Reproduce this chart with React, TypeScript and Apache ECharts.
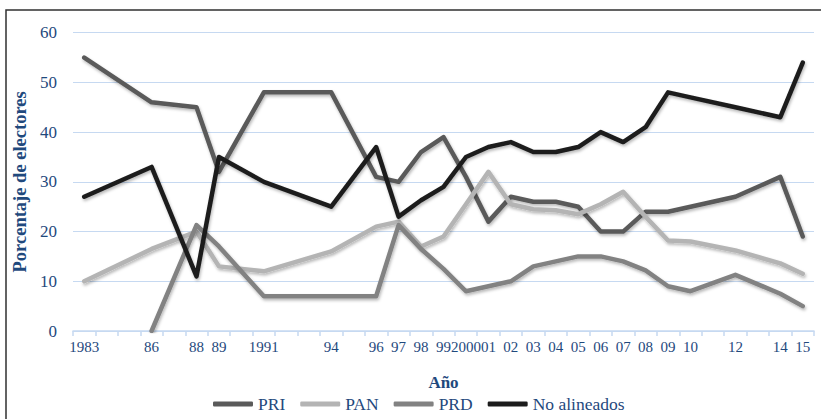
import React, { useEffect, useRef } from "react";
import * as echarts from "echarts";

const years: string[] = [];
for (let y = 1983; y <= 2015; y++) years.push(String(y));

const tickLabels: Record<string, string> = {
  "1983": "1983", "1986": "86", "1988": "88", "1989": "89", "1991": "1991",
  "1994": "94", "1996": "96", "1997": "97", "1998": "98", "1999": "99",
  "2000": "2000", "2001": "01", "2002": "02", "2003": "03", "2004": "04",
  "2005": "05", "2006": "06", "2007": "07", "2008": "08", "2009": "09",
  "2010": "10", "2012": "12", "2014": "14", "2015": "15",
};

// values by year (missing = no survey that year)
const priValues: Record<string, number> = {
  "1983": 55, "1986": 46, "1988": 45, "1989": 32, "1991": 48, "1994": 48,
  "1996": 31, "1997": 30, "1998": 36, "1999": 39, "2000": 31, "2001": 22,
  "2002": 27, "2003": 26, "2004": 26, "2005": 25, "2006": 20, "2007": 20,
  "2008": 24, "2009": 24, "2010": 25, "2012": 27, "2014": 31, "2015": 19,
};
const panValues: Record<string, number> = {
  "1983": 10, "1986": 16.5, "1988": 20, "1989": 13, "1991": 12, "1994": 16,
  "1996": 21, "1997": 22, "1998": 17, "1999": 19, "2000": 25.5, "2001": 32,
  "2002": 25.5, "2003": 24.5, "2004": 24.3, "2005": 23.5, "2006": 25.5, "2007": 28,
  "2008": 23, "2009": 18.2, "2010": 18, "2012": 16.2, "2014": 13.6, "2015": 11.5,
};
const prdValues: Record<string, number> = {
  "1986": 0, "1988": 21.3, "1989": 17, "1991": 7, "1994": 7, "1996": 7,
  "1997": 21.3, "1998": 16.5, "1999": 12.5, "2000": 8, "2001": 9, "2002": 10,
  "2003": 13, "2004": 14, "2005": 15, "2006": 15, "2007": 14, "2008": 12.2,
  "2009": 9, "2010": 8, "2012": 11.3, "2014": 7.5, "2015": 5,
};
const noAlineadosValues: Record<string, number> = {
  "1983": 27, "1986": 33, "1988": 11, "1989": 35, "1991": 30, "1994": 25,
  "1996": 37, "1997": 23, "1998": 26.3, "1999": 29, "2000": 35, "2001": 37,
  "2002": 38, "2003": 36, "2004": 36, "2005": 37, "2006": 40, "2007": 38,
  "2008": 41, "2009": 48, "2010": 47, "2012": 45, "2014": 43, "2015": 54,
};

const toSeries = (m: Record<string, number>) =>
  years.map((y) => (m[y] === undefined ? null : m[y]));

const TEXT = "#1F497D";
const FONT = "'Liberation Serif', serif";

export default function App() {
  const ref = useRef<HTMLDivElement>(null);
  useEffect(() => {
    if (!ref.current) return;
    const chart = echarts.init(ref.current, undefined, { renderer: "svg" });
    const mk = (name: string, data: (number | null)[], color: string) => ({
      name,
      type: "line",
      data,
      connectNulls: true,
      showSymbol: false,
      symbol: "none",
      itemStyle: { color },
      lineStyle: {
        color,
        width: 4.5,
        cap: "round",
        join: "round",
        shadowColor: "rgba(0,0,0,0.28)",
        shadowBlur: 3,
        shadowOffsetX: 1,
        shadowOffsetY: 2,
      },
    });
    chart.setOption({
      animation: false,
      backgroundColor: "#ffffff",
      textStyle: { fontFamily: FONT },
      grid: { left: 73, right: 7, top: 32.7, bottom: 88 },
      graphic: [
        {
          type: "rect",
          shape: { x: 6, y: 10, width: 830, height: 430 },
          style: { fill: "none", stroke: "#303030", lineWidth: 1.5 },
          silent: true,
        },
      ],
      xAxis: {
        type: "category",
        data: years,
        boundaryGap: true,
        name: "Año",
        nameLocation: "middle",
        nameGap: 43,
        nameTextStyle: { color: TEXT, fontSize: 17, fontWeight: "bold", fontFamily: FONT },
        axisLine: { lineStyle: { color: "#c6d9f1", width: 1.5 } },
        axisTick: { show: true, interval: 0, length: 5, lineStyle: { color: "#c6d9f1", width: 1.5 } },
        axisLabel: {
          interval: 0,
          color: TEXT,
          fontSize: 15,
          fontFamily: FONT,
          margin: 8,
          formatter: (v: string) => tickLabels[v] || "",
        },
        splitLine: { show: false },
      },
      yAxis: {
        type: "value",
        min: 0,
        max: 60,
        interval: 10,
        name: "Porcentaje de electores",
        nameLocation: "middle",
        nameRotate: 90,
        nameGap: 41,
        nameTextStyle: { color: TEXT, fontSize: 18.5, fontWeight: "bold", fontFamily: FONT },
        axisLine: { show: false },
        axisTick: { show: false },
        axisLabel: { color: TEXT, fontSize: 17, fontFamily: FONT, margin: 16 },
        splitLine: { lineStyle: { color: "#c6d9f1", width: 1.2 } },
      },
      legend: {
        left: 208,
        top: 390,
        itemWidth: 40,
        itemHeight: 5,
        itemGap: 15,
        icon: "roundRect",
        textStyle: { color: TEXT, fontSize: 17.5, fontFamily: FONT },
        data: ["PRI", "PAN", "PRD", "No alineados"],
      },
      series: [
        mk("PRI", toSeries(priValues), "#5a5a5a"),
        mk("PAN", toSeries(panValues), "#b4b4b4"),
        mk("PRD", toSeries(prdValues), "#828282"),
        mk("No alineados", toSeries(noAlineadosValues), "#1c1c1c"),
      ],
    });
    return () => chart.dispose();
  }, []);
  return (
    <div
      ref={ref}
      style={{ position: "absolute", left: 0, top: 0, width: 821, height: 419, background: "#fff" }}
    />
  );
}
